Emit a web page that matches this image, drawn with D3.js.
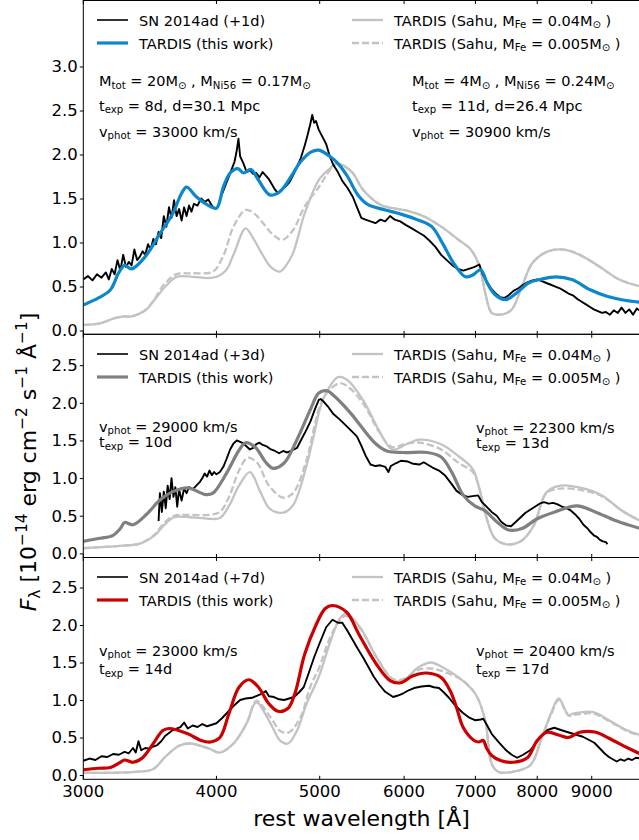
<!DOCTYPE html>
<html>
<head>
<meta charset="utf-8">
<script src="https://cdn.jsdelivr.net/npm/d3@7"></script>
<style>
  body { margin: 0; background: #fff; }
  svg { display: block; }
  text { font-family: "DejaVu Sans", sans-serif; fill: #000; white-space: pre; }
</style>
</head>
<body>
<div id="chart"></div>
<script>
// Figure size
const w = 639;
const h = 840;

// ---- data (wavelength in Angstrom, flux in 1e-14 erg/cm2/s/A) ----
const xTicks = [3000, 4000, 5000, 6000, 7000, 8000, 9000];
const yTicksTop = [0, 0.5, 1.0, 1.5, 2.0, 2.5, 3.0];
const yTicksLow = [0, 0.5, 1.0, 1.5, 2.0, 2.5];

// panel 1: +1d
const sn1 = [[3000,0.58],[3030,0.62],[3060,0.57],[3090,0.64],[3120,0.60],[3150,0.66],[3170,0.58],[3190,0.70],[3210,0.64],[3230,0.80],[3250,0.68],[3270,0.86],[3290,0.72],[3310,0.78],[3330,0.74],[3350,0.92],[3370,0.80],[3390,0.84],[3410,0.90],[3430,0.86],[3450,0.98],[3470,0.92],[3490,1.04],[3510,0.98],[3530,1.12],[3550,1.05],[3570,1.30],[3590,1.18],[3610,1.40],[3630,1.28],[3650,1.48],[3670,1.30],[3690,1.38],[3710,1.25],[3730,1.40],[3750,1.30],[3770,1.42],[3790,1.35],[3810,1.44],[3840,1.42],[3870,1.50],[3900,1.46],[3930,1.49],[3960,1.42],[3990,1.38],[4010,1.40],[4040,1.52],[4070,1.62],[4100,1.72],[4130,1.82],[4160,1.92],[4180,2.05],[4195,2.18],[4210,1.98],[4240,1.90],[4270,1.80],[4300,1.82],[4330,1.78],[4360,1.79],[4390,1.74],[4420,1.80],[4450,1.76],[4480,1.72],[4510,1.66],[4540,1.60],[4570,1.56],[4600,1.60],[4640,1.63],[4680,1.68],[4720,1.76],[4760,1.86],[4800,1.96],[4840,2.10],[4870,2.22],[4900,2.35],[4920,2.45],[4940,2.36],[4960,2.38],[4990,2.28],[5030,2.20],[5070,2.12],[5110,1.98],[5150,1.88],[5200,1.80],[5250,1.70],[5310,1.62],[5370,1.52],[5420,1.40],[5470,1.28],[5520,1.26],[5580,1.24],[5640,1.22],[5700,1.26],[5760,1.24],[5820,1.30],[5880,1.26],[5950,1.24],[6020,1.20],[6100,1.16],[6180,1.12],[6260,1.08],[6340,1.02],[6420,0.95],[6500,0.86],[6580,0.80],[6660,0.74],[6740,0.70],[6820,0.68],[6900,0.70],[6980,0.72],[7060,0.75],[7110,0.64],[7170,0.56],[7240,0.48],[7300,0.43],[7380,0.38],[7450,0.37],[7520,0.40],[7600,0.45],[7680,0.48],[7760,0.52],[7840,0.55],[7920,0.57],[8000,0.58],[8080,0.56],[8160,0.54],[8240,0.52],[8320,0.50],[8400,0.48],[8480,0.45],[8560,0.42],[8640,0.40],[8720,0.36],[8800,0.33],[8880,0.30],[8960,0.27],[9040,0.24],[9120,0.22],[9200,0.20],[9280,0.21],[9360,0.18],[9440,0.23],[9520,0.20],[9600,0.26],[9680,0.20],[9760,0.24],[9840,0.18],[9920,0.25],[10000,0.22]];
const tardis1 = [[3000,0.29],[3100,0.37],[3180,0.46],[3240,0.66],[3280,0.74],[3330,0.70],[3430,0.84],[3540,1.10],[3640,1.33],[3710,1.56],[3750,1.63],[3830,1.52],[3920,1.43],[4000,1.39],[4060,1.63],[4120,1.79],[4190,1.84],[4240,1.79],[4310,1.83],[4380,1.71],[4490,1.54],[4590,1.58],[4700,1.75],[4800,1.92],[4910,2.03],[4990,2.05],[5110,1.98],[5200,1.90],[5310,1.75],[5430,1.54],[5550,1.43],[5760,1.37],[5970,1.32],[6170,1.26],[6370,1.18],[6520,0.99],[6690,0.75],[6850,0.61],[6960,0.63],[7080,0.69],[7180,0.54],[7300,0.41],[7470,0.35],[7640,0.42],[7850,0.54],[8050,0.58],[8330,0.61],[8620,0.58],[8980,0.46],[9300,0.39],[9600,0.35],[10000,0.32]];
const sahu04_1 = [[3000,0.065],[3110,0.08],[3210,0.14],[3280,0.16],[3330,0.16],[3430,0.23],[3500,0.35],[3570,0.48],[3670,0.61],[3800,0.61],[3970,0.60],[4080,0.68],[4150,0.86],[4260,1.16],[4330,1.05],[4410,0.88],[4500,0.72],[4590,0.67],[4650,0.74],[4720,0.88],[4840,1.33],[4990,1.71],[5110,1.84],[5180,1.90],[5250,1.88],[5370,1.79],[5490,1.60],[5700,1.43],[5860,1.39],[6050,1.36],[6280,1.29],[6500,1.18],[6750,1.03],[6930,0.92],[7060,0.73],[7150,0.43],[7250,0.20],[7380,0.18],[7560,0.23],[7740,0.50],[7920,0.77],[8190,0.90],[8470,0.92],[8770,0.86],[9140,0.73],[9550,0.58],[10000,0.50]];
const sahu005_1 = [[3000,0.065],[3110,0.08],[3210,0.14],[3280,0.16],[3330,0.16],[3430,0.23],[3500,0.36],[3570,0.52],[3670,0.64],[3800,0.65],[3970,0.67],[4060,0.85],[4150,1.18],[4260,1.37],[4330,1.34],[4410,1.24],[4510,1.10],[4610,1.03],[4720,1.14],[4840,1.41],[4990,1.63],[5110,1.82],[5180,1.89],[5250,1.88],[5370,1.79],[5490,1.60],[5700,1.43],[5860,1.39],[6050,1.36],[6280,1.29],[6500,1.18],[6750,1.03],[6930,0.92],[7060,0.73],[7150,0.43],[7250,0.20],[7380,0.18],[7560,0.23],[7740,0.50],[7920,0.77],[8190,0.90],[8470,0.92],[8770,0.86],[9140,0.73],[9550,0.58],[10000,0.50]];

// panel 2: +3d
const sn3 = [[3530,0.43],[3540,0.80],[3555,0.55],[3570,0.82],[3585,0.60],[3600,0.90],[3615,0.72],[3630,1.00],[3645,0.75],[3660,0.88],[3675,0.62],[3690,0.85],[3710,0.70],[3730,0.86],[3750,0.80],[3770,0.88],[3800,0.85],[3830,0.90],[3860,0.95],[3880,1.00],[3900,1.06],[3920,1.02],[3940,1.10],[3960,1.04],[3980,1.08],[4000,1.05],[4030,1.08],[4060,1.15],[4090,1.26],[4120,1.38],[4150,1.46],[4180,1.50],[4210,1.48],[4240,1.46],[4270,1.42],[4300,1.38],[4330,1.40],[4360,1.45],[4390,1.47],[4420,1.44],[4460,1.42],[4500,1.38],[4540,1.36],[4580,1.33],[4620,1.36],[4660,1.34],[4700,1.36],[4760,1.40],[4800,1.50],[4850,1.62],[4900,1.75],[4950,1.92],[4990,2.04],[5010,2.05],[5040,2.02],[5090,1.95],[5150,1.85],[5220,1.78],[5290,1.70],[5360,1.62],[5420,1.55],[5470,1.43],[5520,1.30],[5580,1.18],[5640,1.16],[5700,1.17],[5760,1.15],[5800,1.08],[5830,1.16],[5900,1.20],[5960,1.23],[6050,1.22],[6120,1.19],[6200,1.18],[6260,1.21],[6310,1.18],[6380,1.14],[6470,1.10],[6560,1.03],[6650,0.92],[6720,0.83],[6800,0.78],[6880,0.75],[6960,0.76],[7040,0.77],[7100,0.68],[7170,0.62],[7250,0.55],[7330,0.50],[7400,0.42],[7480,0.37],[7560,0.36],[7640,0.42],[7720,0.48],[7800,0.54],[7880,0.58],[7960,0.62],[8040,0.66],[8120,0.68],[8200,0.66],[8280,0.67],[8360,0.65],[8440,0.62],[8520,0.60],[8600,0.57],[8680,0.52],[8760,0.46],[8840,0.38],[8920,0.33],[8980,0.28],[9040,0.24],[9100,0.22],[9160,0.18],[9220,0.16],[9280,0.15],[9310,0.12]];
const tardis3 = [[3000,0.16],[3110,0.20],[3200,0.24],[3250,0.33],[3280,0.41],[3340,0.38],[3440,0.52],[3540,0.71],[3640,0.82],[3760,0.87],[3910,0.78],[3970,0.80],[4090,1.07],[4200,1.37],[4260,1.47],[4350,1.41],[4450,1.21],[4520,1.13],[4630,1.20],[4760,1.51],[4900,1.91],[4990,2.13],[5080,2.16],[5150,2.10],[5340,1.87],[5630,1.47],[5780,1.36],[5990,1.34],[6310,1.34],[6500,1.28],[6650,1.08],[6820,0.77],[6990,0.63],[7140,0.57],[7330,0.42],[7520,0.31],[7740,0.33],[8000,0.46],[8310,0.55],[8720,0.63],[9070,0.55],[9500,0.43],[10000,0.33]];
const sahu04_3 = [[3000,0.07],[3250,0.10],[3390,0.13],[3500,0.24],[3570,0.37],[3650,0.48],[3780,0.48],[3930,0.46],[4030,0.47],[4110,0.63],[4200,0.90],[4300,1.08],[4400,0.81],[4490,0.59],[4620,0.54],[4720,0.64],[4850,1.12],[4950,1.64],[5000,1.91],[5070,2.13],[5200,2.34],[5310,2.30],[5510,2.00],[5680,1.64],[5850,1.38],[6030,1.45],[6200,1.51],[6500,1.45],[6750,1.29],[6960,1.12],[7060,0.86],[7160,0.50],[7300,0.20],[7490,0.12],[7720,0.16],[7940,0.37],[8160,0.81],[8410,0.90],[8800,0.87],[9200,0.77],[9600,0.57],[10000,0.43]];
const sahu005_3 = [[3000,0.07],[3250,0.10],[3390,0.13],[3500,0.25],[3570,0.40],[3650,0.50],[3780,0.51],[3930,0.51],[4030,0.55],[4110,0.75],[4200,1.10],[4280,1.27],[4370,1.20],[4480,0.90],[4620,0.74],[4720,0.80],[4850,1.20],[4950,1.72],[5000,1.95],[5070,2.12],[5220,2.26],[5330,2.20],[5510,1.96],[5680,1.62],[5850,1.41],[6030,1.46],[6200,1.47],[6500,1.38],[6750,1.20],[6960,1.08],[7060,0.86],[7160,0.50],[7300,0.20],[7490,0.12],[7720,0.16],[7940,0.37],[8160,0.80],[8410,0.86],[8800,0.84],[9200,0.76],[9600,0.57],[10000,0.43]];

// panel 3: +7d
const sn7 = [[3000,0.19],[3040,0.22],[3080,0.20],[3120,0.25],[3160,0.24],[3200,0.28],[3240,0.27],[3280,0.31],[3310,0.29],[3340,0.36],[3360,0.30],[3380,0.45],[3400,0.33],[3430,0.36],[3460,0.35],[3490,0.38],[3520,0.40],[3550,0.45],[3580,0.52],[3610,0.56],[3640,0.60],[3670,0.62],[3700,0.64],[3730,0.70],[3760,0.62],[3800,0.66],[3840,0.64],[3880,0.68],[3920,0.65],[3960,0.67],[4000,0.69],[4050,0.76],[4100,0.84],[4150,0.92],[4210,1.00],[4260,1.02],[4320,1.03],[4370,1.06],[4420,1.09],[4450,1.12],[4480,1.05],[4530,1.04],[4580,1.01],[4630,1.00],[4680,1.02],[4730,1.04],[4780,1.10],[4830,1.17],[4880,1.35],[4940,1.57],[5000,1.76],[5070,1.97],[5140,2.07],[5200,2.03],[5250,2.03],[5310,1.92],[5370,1.80],[5430,1.68],[5490,1.57],[5560,1.43],[5620,1.31],[5690,1.20],[5760,1.11],[5860,1.04],[5920,1.06],[5990,1.09],[6060,1.13],[6130,1.16],[6230,1.18],[6330,1.19],[6400,1.17],[6470,1.16],[6540,1.10],[6610,1.03],[6700,0.93],[6810,0.83],[6900,0.77],[7000,0.73],[7080,0.74],[7120,0.75],[7180,0.66],[7250,0.55],[7360,0.44],[7480,0.33],[7570,0.27],[7660,0.23],[7760,0.27],[7880,0.33],[7980,0.43],[8080,0.53],[8180,0.60],[8300,0.63],[8420,0.60],[8550,0.57],[8690,0.54],[8830,0.51],[8940,0.47],[9050,0.43],[9150,0.36],[9250,0.29],[9340,0.24],[9420,0.21],[9500,0.18],[9580,0.21],[9660,0.19],[9740,0.22],[9820,0.20],[9900,0.23],[10000,0.22]];
const tardis7 = [[3000,0.07],[3100,0.09],[3180,0.10],[3250,0.17],[3280,0.20],[3340,0.17],[3410,0.23],[3490,0.42],[3560,0.59],[3610,0.62],[3760,0.55],[3870,0.46],[3950,0.44],[4030,0.50],[4110,0.82],[4200,1.17],[4290,1.27],[4380,1.17],[4480,0.95],[4570,0.85],[4670,0.89],[4740,1.09],[4840,1.61],[4960,2.00],[5060,2.22],[5140,2.26],[5300,2.17],[5440,1.88],[5650,1.48],[5820,1.26],[5960,1.23],[6110,1.32],[6300,1.36],[6500,1.30],[6630,1.12],[6720,0.90],[6820,0.63],[6980,0.46],[7050,0.44],[7120,0.46],[7170,0.36],[7250,0.26],[7400,0.19],[7600,0.17],[7830,0.23],[8000,0.46],[8170,0.57],[8390,0.53],[8550,0.50],[8770,0.57],[9080,0.57],[9340,0.49],[9700,0.37],[10000,0.28]];
const sahu04_7 = [[3000,0.03],[3340,0.04],[3490,0.08],[3580,0.24],[3690,0.39],[3780,0.42],[3940,0.35],[4030,0.30],[4150,0.42],[4270,0.69],[4360,0.97],[4480,0.73],[4590,0.46],[4670,0.42],[4760,0.59],[4860,0.95],[4990,1.31],[5120,1.79],[5230,2.10],[5300,2.15],[5460,1.96],[5660,1.56],[5860,1.26],[5990,1.26],[6180,1.43],[6360,1.50],[6530,1.43],[6810,1.26],[7000,1.08],[7150,0.73],[7250,0.15],[7360,0.04],[7560,0.04],[7880,0.13],[8080,0.50],[8240,0.82],[8380,1.02],[8560,0.80],[8650,0.82],[9030,0.84],[9340,0.73],[9700,0.60],[10000,0.53]];
const sahu005_7 = [[3000,0.03],[3340,0.04],[3490,0.08],[3580,0.24],[3690,0.39],[3780,0.42],[3940,0.35],[4030,0.30],[4150,0.42],[4270,0.69],[4360,0.99],[4480,0.80],[4600,0.58],[4680,0.57],[4800,0.78],[4900,1.18],[4990,1.42],[5120,1.85],[5230,2.08],[5300,2.12],[5460,1.95],[5660,1.56],[5860,1.28],[5990,1.28],[6180,1.40],[6360,1.42],[6530,1.38],[6810,1.26],[7000,1.08],[7150,0.73],[7250,0.15],[7360,0.04],[7560,0.04],[7880,0.13],[8080,0.50],[8240,0.80],[8380,1.00],[8560,0.79],[8650,0.80],[9030,0.82],[9340,0.72],[9700,0.59],[10000,0.52]];

const epochLabels = ["SN 2014ad (+1d)", "SN 2014ad (+3d)", "SN 2014ad (+7d)"];
const modelColors = ["#0b87cb", "#808080", "#cc0000"];
const sahuColor = "#c3c3c3";

// ---- layout ----
const xScale = d3.scaleLog().domain([3000, 10000]).range([83.3, 640.5]);

const panels = [
  {top: 0.5, bottom: 334.3, dom: [-0.043, 3.75], ticks: yTicksTop, sn: sn1, model: tardis1, s04: sahu04_1, s005: sahu005_1,
   legY: [20, 43],
   notes: [
     {x: 99, y: 86, parts: ["M", ["tot","sub"], " = 20M", ["⊙","sub"], " , M", ["Ni56","sub"], " = 0.17M", ["⊙","sub"]]},
     {x: 99, y: 110.5, parts: ["t", ["exp","sub"], " = 8d, d=30.1 Mpc"]},
     {x: 99, y: 136.5, parts: ["v", ["phot","sub"], " = 33000 km/s"]},
     {x: 412, y: 86, parts: ["M", ["tot","sub"], " = 4M", ["⊙","sub"], " , M", ["Ni56","sub"], " = 0.24M", ["⊙","sub"]]},
     {x: 412, y: 110.5, parts: ["t", ["exp","sub"], " = 11d, d=26.4 Mpc"]},
     {x: 412, y: 136.5, parts: ["v", ["phot","sub"], " = 30900 km/s"]}
   ]},
  {top: 334.3, bottom: 557.5, dom: [-0.055, 2.91], ticks: yTicksLow, sn: sn3, model: tardis3, s04: sahu04_3, s005: sahu005_3,
   legY: [354, 377],
   notes: [
     {x: 99, y: 431.5, parts: ["v", ["phot","sub"], " = 29000 km/s"]},
     {x: 99, y: 447, parts: ["t", ["exp","sub"], " = 10d"]},
     {x: 476, y: 432.5, parts: ["v", ["phot","sub"], " = 22300 km/s"]},
     {x: 476, y: 448, parts: ["t", ["exp","sub"], " = 13d"]}
   ]},
  {top: 557.5, bottom: 779.3, dom: [-0.057, 2.9], ticks: yTicksLow, sn: sn7, model: tardis7, s04: sahu04_7, s005: sahu005_7,
   legY: [577, 600],
   notes: [
     {x: 99, y: 655.5, parts: ["v", ["phot","sub"], " = 23000 km/s"]},
     {x: 99, y: 674, parts: ["t", ["exp","sub"], " = 14d"]},
     {x: 476, y: 655.5, parts: ["v", ["phot","sub"], " = 20400 km/s"]},
     {x: 476, y: 674, parts: ["t", ["exp","sub"], " = 17d"]}
   ]}
];

const svg = d3.select("#chart").append("svg")
  .attr("width", w).attr("height", h)
  .attr("viewBox", [0, 0, w, h]);

// text with sub/superscripts built from tspans
function rich(g, x, y, parts, size) {
  const t = g.append("text").attr("x", x).attr("y", y).attr("font-size", size);
  let shift = 0;
  parts.forEach(p => {
    const [str, kind] = typeof p === "string" ? [p, ""] : p;
    let target = 0, fs = size;
    if (kind === "sub") { target = 0.2 * size; fs = 0.7 * size; }
    if (kind === "sup") { target = -0.4 * size; fs = 0.7 * size; }
    const ts = t.append("tspan").text(str).attr("font-size", fs).attr("dy", target - shift);
    if (kind === "it") ts.attr("font-style", "italic");
    shift = target;
  });
  return t;
}

const sahuParts = mfe => ["TARDIS (Sahu, M", ["Fe","sub"], " = " + mfe + "M", ["⊙","sub"], " )"];

panels.forEach((p, i) => {
  const yScale = d3.scaleLinear().domain(p.dom).range([p.bottom, p.top]);
  const g = svg.append("g");

  const clipId = "clip" + i;
  svg.append("clipPath").attr("id", clipId)
    .append("rect").attr("x", xScale.range()[0]).attr("y", p.top)
    .attr("width", xScale.range()[1] - xScale.range()[0]).attr("height", p.bottom - p.top);

  const smooth = d3.line().x(d => xScale(d[0])).y(d => yScale(d[1])).curve(d3.curveCatmullRom.alpha(0.5));
  const raw = d3.line().x(d => xScale(d[0])).y(d => yScale(d[1]));

  const lines = g.append("g").attr("clip-path", `url(#${clipId})`);
  lines.append("path").attr("d", smooth(p.s04)).attr("fill", "none")
    .attr("stroke", sahuColor).attr("stroke-width", 2.3);
  lines.append("path").attr("d", smooth(p.s005)).attr("fill", "none")
    .attr("stroke", sahuColor).attr("stroke-width", 2.3).attr("stroke-dasharray", "7,3");
  lines.append("path").attr("d", raw(p.sn)).attr("fill", "none")
    .attr("stroke", "#000").attr("stroke-width", 1.9).attr("stroke-linejoin", "round");
  lines.append("path").attr("d", smooth(p.model)).attr("fill", "none")
    .attr("stroke", modelColors[i]).attr("stroke-width", 3.2);

  // frame
  g.append("rect").attr("x", xScale.range()[0]).attr("y", p.top)
    .attr("width", xScale.range()[1] - xScale.range()[0]).attr("height", p.bottom - p.top)
    .attr("fill", "none").attr("stroke", "#000").attr("stroke-width", 1);

  // x ticks (inward, top and bottom)
  xTicks.forEach(t => {
    const x = xScale(t);
    g.append("line").attr("x1", x).attr("x2", x).attr("y1", p.bottom).attr("y2", p.bottom - 3.5).attr("stroke", "#000");
    g.append("line").attr("x1", x).attr("x2", x).attr("y1", p.top).attr("y2", p.top + 3.5).attr("stroke", "#000");
  });

  // y axis
  const yAxis = d3.axisLeft(yScale).tickValues(p.ticks).tickFormat(d3.format(".1f")).tickSize(3.5).tickPadding(2);
  const ya = g.append("g").attr("transform", `translate(${xScale.range()[0]},0)`).call(yAxis);
  ya.select(".domain").remove();
  ya.selectAll("text").attr("font-size", 16.5).attr("font-family", "DejaVu Sans").attr("fill", "#000");

  // legends
  const [ly1, ly2] = p.legY;
  g.append("line").attr("x1", 97).attr("x2", 128).attr("y1", ly1).attr("y2", ly1).attr("stroke", "#000").attr("stroke-width", 1.6);
  rich(g, 139, ly1 + 5.5, [epochLabels[i]], 14.5);
  g.append("line").attr("x1", 97).attr("x2", 128).attr("y1", ly2).attr("y2", ly2).attr("stroke", modelColors[i]).attr("stroke-width", 3.2);
  rich(g, 139, ly2 + 5.5, ["TARDIS (this work)"], 14.5);

  g.append("line").attr("x1", 352).attr("x2", 383).attr("y1", ly1).attr("y2", ly1).attr("stroke", sahuColor).attr("stroke-width", 2.3);
  rich(g, 394, ly1 + 5.5, sahuParts("0.04"), 14.5);
  g.append("line").attr("x1", 352).attr("x2", 383).attr("y1", ly2).attr("y2", ly2).attr("stroke", sahuColor).attr("stroke-width", 2.3).attr("stroke-dasharray", "7,3");
  rich(g, 394, ly2 + 5.5, sahuParts("0.005"), 14.5);

  // annotations
  p.notes.forEach(n => rich(g, n.x, n.y, n.parts, 14.5));
});

// x tick labels on bottom panel
svg.append("g").selectAll("text").data(xTicks).join("text")
  .attr("x", d => xScale(d)).attr("y", 797)
  .attr("text-anchor", "middle").attr("font-size", 16.5)
  .text(d3.format("d"));

// axis labels
svg.append("text").attr("x", 361.5).attr("y", 826).attr("text-anchor", "middle")
  .attr("font-size", 22).text("rest wavelength [Å]");

const yl = rich(svg, 0, 0, [["F","it"], ["λ","sub"], " [10", ["−14","sup"], " erg cm", ["−2","sup"], " s", ["−1","sup"], " Å", ["−1","sup"], "]"], 22);
yl.attr("text-anchor", "middle").attr("transform", "translate(36,462) rotate(-90)");
</script>
</body>
</html>
